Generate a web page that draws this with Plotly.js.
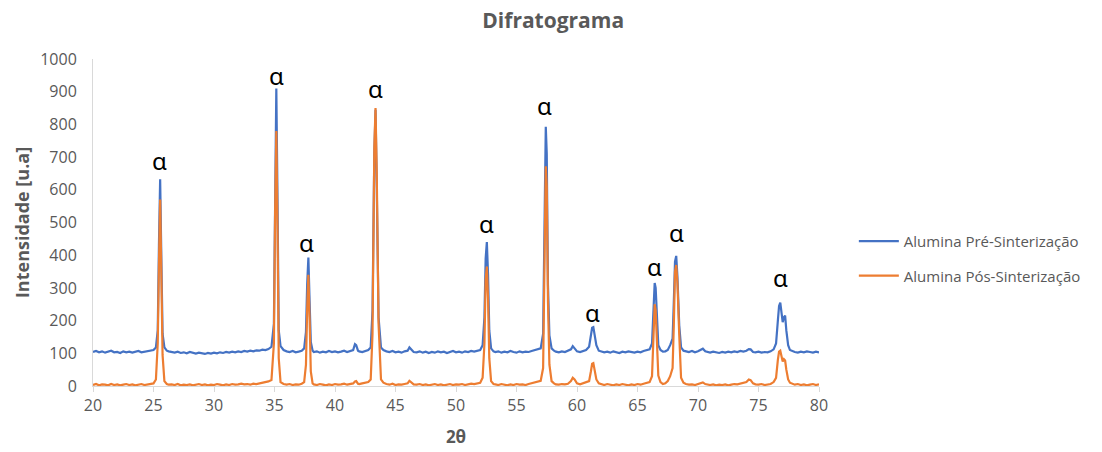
<!DOCTYPE html>
<html>
<head>
<meta charset="utf-8">
<script src="https://cdn.plot.ly/plotly-3.0.1.min.js"></script>
<style>html,body{margin:0;padding:0;background:#fff;}#chart{width:1102px;height:452px;}</style>
</head>
<body>
<div id="chart"></div>
<script>
// 2θ positions (shared by both series)
const twoTheta = [
  20,20.25,20.5,20.75,21,21.25,21.5,21.75,22,22.25,22.5,22.75,23,23.25,23.5,23.75,24,24.25,24.5,24.75,
  25.0,25.2,25.35,25.45,25.55,25.65,25.75,25.9,26.1,
  26.25,26.5,26.75,27,27.25,27.5,27.75,28,28.25,28.5,28.75,29,29.25,29.5,29.75,30,30.25,30.5,30.75,31,31.25,31.5,31.75,32,32.25,32.5,32.75,33,33.25,33.5,33.75,34,34.25,
  34.5,34.75,34.95,35.05,35.15,35.25,35.35,35.5,35.75,
  36,36.25,36.5,36.75,37,37.25,
  37.45,37.6,37.7,37.8,37.9,38.0,38.15,
  38.25,38.5,38.75,39,39.25,39.5,39.75,40,40.25,40.5,40.75,41,41.25,
  41.5,41.65,41.75,41.9,
  42,42.25,42.5,42.75,
  42.95,43.1,43.25,43.35,43.45,43.6,43.8,44.0,
  44.25,44.5,44.75,45,45.25,45.5,45.75,
  46.0,46.15,46.3,46.5,
  46.75,47,47.25,47.5,47.75,48,48.25,48.5,48.75,49,49.25,49.5,49.75,50,50.25,50.5,50.75,51,51.25,51.5,51.75,
  52.0,52.2,52.35,52.45,52.55,52.65,52.75,52.9,53.1,
  53.25,53.5,53.75,54,54.25,54.5,54.75,55,55.25,55.5,55.75,56,56.25,56.5,56.75,
  57.0,57.2,57.32,57.42,57.5,57.6,57.72,57.9,58.1,
  58.25,58.5,58.75,59,59.25,
  59.5,59.65,59.8,60.0,
  60.25,60.5,60.75,
  61.0,61.15,61.25,61.35,61.45,61.6,61.8,
  62,62.25,62.5,62.75,63,63.25,63.5,63.75,64,64.25,64.5,64.75,65,65.25,65.5,65.75,
  66.0,66.2,66.32,66.42,66.5,66.6,66.72,66.9,67.1,
  67.3,67.5,67.7,
  67.9,68.0,68.1,68.2,68.3,68.45,68.6,68.8,
  69,69.25,69.5,69.75,70.0,
  70.25,70.4,70.6,
  70.75,71,71.25,71.5,71.75,72,72.25,72.5,72.75,73,73.25,73.5,73.75,
  74.0,74.2,74.35,74.55,
  74.75,75,75.25,75.5,75.75,76,76.25,
  76.45,76.6,76.7,76.8,76.9,77.0,77.1,77.2,77.3,77.45,77.6,77.8,
  78,78.25,78.5,78.75,79,79.25,79.5,79.75,80
];

// Alumina Pré-Sinterização intensities
const preSint = [
  104,107,103,106,102,105,108,103,104,101,106,103,105,102,104,107,103,105,106,108,
  110,118,170,430,632,390,160,118,108,
  106,104,102,105,101,103,100,104,101,99,102,100,98,101,99,102,100,103,101,104,102,105,103,106,104,107,105,108,106,109,108,111,110,
  113,120,190,610,910,570,170,122,110,
  106,104,107,103,105,108,
  115,165,310,393,260,135,108,
  104,106,102,105,103,107,104,106,103,105,108,104,107,
  110,128,125,108,
  106,104,108,110,
  118,230,710,845,610,210,118,110,
  106,104,107,103,105,102,106,
  108,118,112,104,
  103,106,102,105,101,104,102,106,103,105,101,104,107,103,105,102,106,104,107,105,108,
  110,125,210,390,440,340,170,115,106,
  104,106,102,105,103,107,104,102,106,103,105,104,107,109,111,
  115,160,520,793,710,310,155,115,108,
  105,103,106,104,107,
  112,122,115,106,
  104,107,110,
  120,150,178,180,160,125,108,
  106,103,105,102,106,104,101,105,103,106,104,102,105,103,107,109,
  112,130,255,315,300,205,125,110,105,
  106,110,125,
  145,255,380,398,335,185,118,108,
  106,104,107,103,106,
  110,114,106,
  104,102,105,103,101,104,102,105,103,106,104,107,105,
  108,113,112,104,
  103,105,102,104,103,106,112,
  130,200,245,255,225,195,210,215,170,125,110,106,
  104,102,105,103,106,104,102,105,103
];

// Alumina Pós-Sinterização intensities
const posSint = [
  3,6,2,5,4,2,6,3,5,2,4,6,3,5,2,4,6,3,5,7,
  8,20,130,370,570,340,95,15,6,
  4,5,3,6,2,4,3,5,2,4,6,3,5,2,4,3,6,4,2,5,3,6,4,5,7,5,6,4,7,6,8,9,12,
  14,18,130,530,780,480,85,12,6,
  4,6,3,5,4,7,
  12,65,235,340,205,45,8,
  5,3,6,4,2,5,3,6,4,5,7,4,6,
  8,14,15,7,
  6,8,10,12,
  20,160,730,850,650,190,20,10,
  6,4,7,3,5,4,6,
  8,16,12,5,
  4,6,3,5,2,4,6,3,5,2,4,6,3,5,4,6,3,5,7,6,9,
  10,25,130,325,365,265,85,15,6,
  5,3,6,4,2,5,3,6,4,5,3,6,8,10,13,
  16,55,420,672,610,260,65,15,8,
  5,4,6,5,7,
  15,25,20,8,
  5,8,10,
  15,45,68,70,50,20,8,
  5,3,6,4,2,5,3,6,4,2,5,3,6,4,7,9,
  12,30,185,250,232,145,32,12,6,
  8,15,30,
  55,185,350,370,315,155,25,10,
  6,4,5,3,6,
  8,11,6,
  4,3,5,2,4,3,5,2,4,6,5,7,8,
  12,20,18,8,
  5,4,6,3,5,6,12,
  25,80,105,108,90,75,82,78,50,20,10,6,
  4,6,3,5,2,4,6,3,5
];

// α labels above peaks
const alphaX = [25.5, 35.2, 37.65, 43.35, 52.55, 57.35, 61.25, 66.4, 68.2, 76.85];
const alphaY = [690, 950, 440, 910, 498, 858, 226, 364, 468, 333];
const alphaText = 'α';

const seriesNames = ['Alumina Pré-Sinterização', 'Alumina Pós-Sinterização'];
const xTicks = [20,25,30,35,40,45,50,55,60,65,70,75,80];

if (twoTheta.length !== preSint.length || twoTheta.length !== posSint.length) {
  console.error('length mismatch', twoTheta.length, preSint.length, posSint.length);
}

const FONT = '"Open Sans", Lato, sans-serif';
const GREY = '#595959';

const traces = [
  {x: twoTheta, y: preSint, name: seriesNames[0], legendgroup: 'a', type: 'scatter', mode: 'lines',
   line: {color: '#4472C4', width: 2.2}},
  {x: twoTheta, y: posSint, name: seriesNames[1], legendgroup: 'b', type: 'scatter', mode: 'lines',
   line: {color: '#ED7D31', width: 2.2}}
];

const annotations = alphaX.map((x, i) => ({
  x: x, y: alphaY[i], xref: 'x', yref: 'y', text: alphaText, showarrow: false,
  font: {family: '"Noto Sans", "DejaVu Sans", sans-serif', size: 24, color: '#000'}
}));

const layout = {
  width: 1102, height: 452,
  margin: {l: 93, r: 283, t: 59, b: 66, autoexpand: false},
  paper_bgcolor: '#fff', plot_bgcolor: '#fff',
  font: {family: FONT, color: GREY, size: 15},
  title: {text: '<b>Difratograma</b>', xref: 'container', x: 0.502, xanchor: 'center',
          yref: 'container', y: 0.955, yanchor: 'middle',
          font: {family: FONT, size: 21, color: GREY}},
  xaxis: {range: [20, 80], tickvals: xTicks, ticks: 'outside', ticklen: 5, tickcolor: '#d9d9d9',
          showline: true, linecolor: '#d9d9d9', linewidth: 1, showgrid: false, zeroline: false,
          tickfont: {size: 16, color: GREY},
          title: {text: '<b>2θ</b>', font: {size: 17, color: GREY}, standoff: 15}},
  yaxis: {range: [0, 1000], dtick: 100, ticks: '', showline: true, linecolor: '#d9d9d9', linewidth: 1,
          ticklabelstandoff: 12,
          showgrid: false, zeroline: false, tickfont: {size: 16, color: GREY},
          title: {text: '<b>Intensidade [u.a]</b>', font: {size: 18, color: GREY}, standoff: 5}},
  legend: {x: 1.048, xanchor: 'left', y: 0.39, yanchor: 'middle', font: {size: 15, color: GREY},
           tracegroupgap: 12, itemwidth: 40, bgcolor: 'rgba(0,0,0,0)'},
  annotations: annotations,
  showlegend: true
};

Plotly.newPlot('chart', traces, layout, {displayModeBar: false, staticPlot: true});
</script>
</body>
</html>
